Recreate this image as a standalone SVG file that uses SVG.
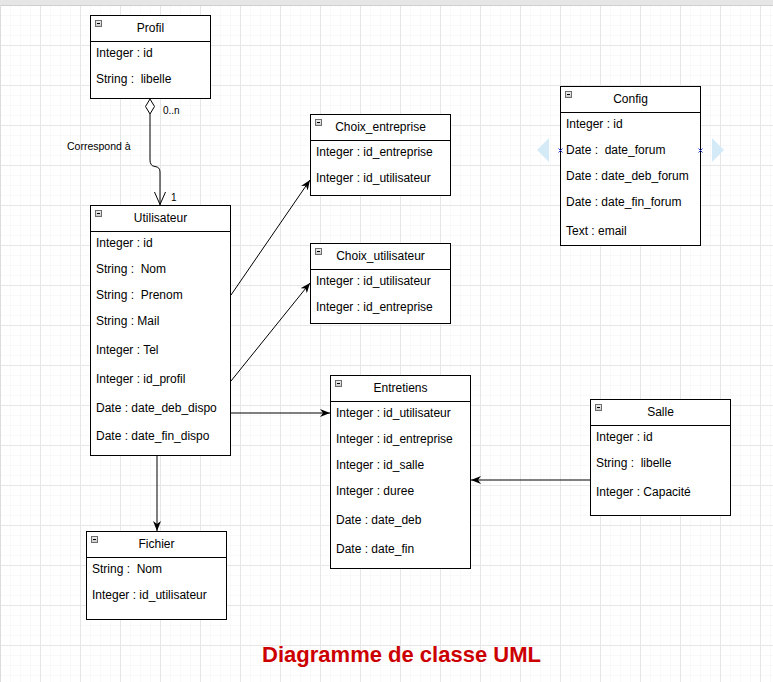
<svg xmlns="http://www.w3.org/2000/svg" width="773" height="682" viewBox="0 0 773 682">
<defs>
<pattern id="minor" width="10" height="10" patternUnits="userSpaceOnUse" y="5">
<path d="M10,0 L0,0 L0,10" fill="none" stroke="#f3f3f3" stroke-width="1"/>
</pattern>
<pattern id="major" width="40" height="40" patternUnits="userSpaceOnUse" y="5">
<path d="M40,0.5 L0.5,0.5 L0.5,40" fill="none" stroke="#e6e6e6" stroke-width="1"/>
</pattern>
<marker id="arr" viewBox="0 0 10 8" refX="10" refY="4" markerWidth="10" markerHeight="8" orient="auto" markerUnits="userSpaceOnUse">
<path d="M0,0 L10,4 L0,8 L3,4 z" fill="#000"/>
</marker>
<linearGradient id="ico" x1="0" y1="0" x2="0" y2="1">
<stop offset="0" stop-color="#f0f0f0"/>
<stop offset="1" stop-color="#c8c8c8"/>
</linearGradient>
</defs>
<style>
.box{fill:#fff;stroke:#000;stroke-width:1}
.sep{stroke:#000;stroke-width:1}
.t{font-family:"Liberation Sans",Arial,sans-serif;font-size:12px;fill:#000;white-space:pre}
.h{text-anchor:middle}
.lbl{font-family:"Liberation Sans",Arial,sans-serif;font-size:10px;fill:#000}
.icon{fill:url(#ico);stroke:#6d6d6d;stroke-width:1}
.edge{fill:none;stroke:#000;stroke-width:1}
</style>
<rect width="773" height="682" fill="#fff"/>
<rect width="773" height="682" fill="url(#minor)"/>
<rect width="773" height="682" fill="url(#major)"/>
<rect x="0" y="0" width="773" height="5" fill="#e6e6e6"/>
<line x1="0" y1="5.5" x2="773" y2="5.5" stroke="#cfcfcf"/>
<line x1="0.5" y1="5" x2="0.5" y2="682" stroke="#dcdcdc"/>

<g id="connectors">
<path class="edge" d="M150,114 L150,160 Q150,166 155,166.5 Q160,167 160,172 L160,205"/>
<path d="M145.5,106.5 L150,99 L154.5,106.5 L150,114 z" fill="#fff" stroke="#000"/>
<path class="edge" d="M154.5,192 L160,204.5 L165.5,192"/>
<text class="lbl" x="163" y="114">0..n</text>
<text class="lbl" x="171" y="201">1</text>
<text class="lbl" x="67" y="150" style="font-size:10.5px">Correspond à</text>
<line class="edge" x1="231" y1="295" x2="310" y2="180" marker-end="url(#arr)"/>
<line class="edge" x1="231" y1="381" x2="310" y2="283" marker-end="url(#arr)"/>
<line class="edge" x1="231" y1="413" x2="330" y2="413" marker-end="url(#arr)"/>
<line class="edge" x1="157" y1="455" x2="157" y2="531" marker-end="url(#arr)"/>
<line class="edge" x1="590" y1="480" x2="471" y2="480" marker-end="url(#arr)"/>
</g>

<g id="Profil">
<rect class="box" x="90.5" y="15.5" width="120" height="83"/>
<line class="sep" x1="90.5" y1="41.5" x2="210.5" y2="41.5"/>
<rect class="icon" x="95.5" y="20.5" width="6" height="6"/>
<line x1="97" y1="23.5" x2="100" y2="23.5" stroke="#000"/>
<text class="t h" x="150.5" y="32">Profil</text>
<text class="t" x="96" y="57">Integer : id</text>
<text class="t" x="96" y="83">String :  libelle</text>
</g>

<g id="Utilisateur">
<rect class="box" x="90.5" y="205.5" width="140" height="250"/>
<line class="sep" x1="90.5" y1="231.5" x2="230.5" y2="231.5"/>
<rect class="icon" x="95.5" y="210.5" width="6" height="6"/>
<line x1="97" y1="213.5" x2="100" y2="213.5" stroke="#000"/>
<text class="t h" x="160.5" y="222">Utilisateur</text>
<text class="t" x="96" y="247">Integer : id</text>
<text class="t" x="96" y="273">String :  Nom</text>
<text class="t" x="96" y="299">String :  Prenom</text>
<text class="t" x="96" y="325">String : Mail</text>
<text class="t" x="96" y="354">Integer : Tel</text>
<text class="t" x="96" y="383">Integer : id_profil</text>
<text class="t" x="96" y="412">Date : date_deb_dispo</text>
<text class="t" x="96" y="440">Date : date_fin_dispo</text>
</g>

<g id="Choix_entreprise">
<rect class="box" x="310.5" y="114.5" width="140" height="81"/>
<line class="sep" x1="310.5" y1="140.5" x2="450.5" y2="140.5"/>
<rect class="icon" x="315.5" y="119.5" width="6" height="6"/>
<line x1="317" y1="122.5" x2="320" y2="122.5" stroke="#000"/>
<text class="t h" x="380.5" y="131">Choix_entreprise</text>
<text class="t" x="316" y="156">Integer : id_entreprise</text>
<text class="t" x="316" y="182">Integer : id_utilisateur</text>
</g>

<g id="Choix_utilisateur">
<rect class="box" x="310.5" y="243.5" width="140" height="80"/>
<line class="sep" x1="310.5" y1="269.5" x2="450.5" y2="269.5"/>
<rect class="icon" x="315.5" y="248.5" width="6" height="6"/>
<line x1="317" y1="251.5" x2="320" y2="251.5" stroke="#000"/>
<text class="t h" x="380.5" y="260">Choix_utilisateur</text>
<text class="t" x="316" y="285">Integer : id_utilisateur</text>
<text class="t" x="316" y="311">Integer : id_entreprise</text>
</g>

<g id="Config">
<path d="M549,138 L537,150 L549,162 z" fill="#d4ebf7"/>
<path d="M712,138 L724,150 L712,162 z" fill="#d4ebf7"/>
<rect class="box" x="560.5" y="86.5" width="140" height="159"/>
<line class="sep" x1="560.5" y1="112.5" x2="700.5" y2="112.5"/>
<rect class="icon" x="565.5" y="91.5" width="6" height="6"/>
<line x1="567" y1="94.5" x2="570" y2="94.5" stroke="#000"/>
<text class="t h" x="630.5" y="103">Config</text>
<text class="t" x="566" y="128">Integer : id</text>
<text class="t" x="566" y="154">Date :  date_forum</text>
<text class="t" x="566" y="180">Date : date_deb_forum</text>
<text class="t" x="566" y="206">Date : date_fin_forum</text>
<text class="t" x="566" y="235">Text : email</text>
<path d="M558.5,148.5 L562.5,152.5 M562.5,148.5 L558.5,152.5 M698.5,148.5 L702.5,152.5 M702.5,148.5 L698.5,152.5" stroke="#2a3fd6" stroke-width="1" fill="none"/>
</g>

<g id="Entretiens">
<rect class="box" x="330.5" y="375.5" width="140" height="193"/>
<line class="sep" x1="330.5" y1="401.5" x2="470.5" y2="401.5"/>
<rect class="icon" x="335.5" y="380.5" width="6" height="6"/>
<line x1="337" y1="383.5" x2="340" y2="383.5" stroke="#000"/>
<text class="t h" x="400.5" y="392">Entretiens</text>
<text class="t" x="336" y="417">Integer : id_utilisateur</text>
<text class="t" x="336" y="443">Integer : id_entreprise</text>
<text class="t" x="336" y="469">Integer : id_salle</text>
<text class="t" x="336" y="495">Integer : duree</text>
<text class="t" x="336" y="524">Date : date_deb</text>
<text class="t" x="336" y="553">Date : date_fin</text>
</g>

<g id="Salle">
<rect class="box" x="590.5" y="399.5" width="140" height="116"/>
<line class="sep" x1="590.5" y1="425.5" x2="730.5" y2="425.5"/>
<rect class="icon" x="595.5" y="404.5" width="6" height="6"/>
<line x1="597" y1="407.5" x2="600" y2="407.5" stroke="#000"/>
<text class="t h" x="660.5" y="416">Salle</text>
<text class="t" x="596" y="441">Integer : id</text>
<text class="t" x="596" y="467">String :  libelle</text>
<text class="t" x="596" y="496">Integer : Capacité</text>
</g>

<g id="Fichier">
<rect class="box" x="86.5" y="531.5" width="140" height="88"/>
<line class="sep" x1="86.5" y1="557.5" x2="226.5" y2="557.5"/>
<rect class="icon" x="91.5" y="536.5" width="6" height="6"/>
<line x1="93" y1="539.5" x2="96" y2="539.5" stroke="#000"/>
<text class="t h" x="156.5" y="548">Fichier</text>
<text class="t" x="92" y="573">String :  Nom</text>
<text class="t" x="92" y="599">Integer : id_utilisateur</text>
</g>

<g id="title">
<text x="401.5" y="662" text-anchor="middle" style="font-family:'Liberation Sans',Arial,sans-serif;font-size:22px;font-weight:bold;fill:#cc0000">Diagramme de classe UML</text>
</g>
</svg>
